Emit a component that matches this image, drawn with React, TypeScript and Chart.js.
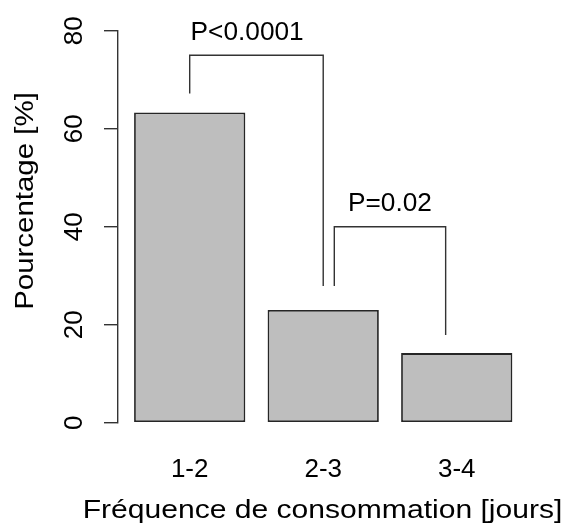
import React, { useEffect, useRef } from "react";
import { Chart, registerables } from "chart.js";

Chart.register(...registerables);

// ---- data ----
const categories = ["1-2", "2-3", "3-4"];
const percentages = [63.3, 23.0, 14.2];
const yTickValues = [0, 20, 40, 60, 80];
const yTitle = "Pourcentage [%]";
const xTitle = "Fréquence de consommation [jours]";

// significance brackets (x in category index units, y in %)
const bracketStart = [0, 1.083];
const bracketEnd = [1, 1.917];
const bracketLevel = [75, 40];
const bracketStartFoot = [67.2, 27.9];
const bracketEndFoot = [27.9, 17.9];
const pLabels = ["P<0.0001", "P=0.02"];
const pLabelX = [0.43, 1.5];
const pLabelY = [80, 45];

const FONT = "'Liberation Sans', Arial, sans-serif";
const INK = "#333333";

function drawText(
  ctx: CanvasRenderingContext2D,
  text: string,
  x: number,
  y: number,
  size: number,
  stretch: number,
  rotate: boolean
) {
  ctx.save();
  ctx.translate(x, y);
  if (rotate) ctx.rotate(-Math.PI / 2);
  ctx.scale(stretch, 1);
  ctx.font = `${size}px ${FONT}`;
  ctx.textAlign = "center";
  ctx.textBaseline = "alphabetic";
  ctx.fillStyle = "#000";
  ctx.fillText(text, 0, 0);
  ctx.restore();
}

const annotatePlugin = {
  id: "annotate",
  afterDraw(chart: any) {
    const ctx: CanvasRenderingContext2D = chart.ctx;
    const xs = chart.scales.x;
    const ys = chart.scales.y;
    const area = chart.chartArea;

    // brackets
    ctx.save();
    ctx.strokeStyle = INK;
    ctx.lineWidth = 1.4;
    ctx.lineCap = "butt";
    ctx.lineJoin = "miter";
    for (let k = 0; k < bracketStart.length; k++) {
      const x1 = xs.getPixelForValue(bracketStart[k]);
      const x2 = xs.getPixelForValue(bracketEnd[k]);
      const yl = ys.getPixelForValue(bracketLevel[k]);
      ctx.beginPath();
      ctx.moveTo(x1, ys.getPixelForValue(bracketStartFoot[k]));
      ctx.lineTo(x1, yl);
      ctx.lineTo(x2, yl);
      ctx.lineTo(x2, ys.getPixelForValue(bracketEndFoot[k]));
      ctx.stroke();
    }
    ctx.restore();

    // p-value labels
    const pSize = 25;
    for (let k = 0; k < pLabels.length; k++) {
      drawText(
        ctx,
        pLabels[k],
        xs.getPixelForValue(pLabelX[k]),
        ys.getPixelForValue(pLabelY[k]) + 0.358 * pSize,
        pSize,
        1.05,
        false
      );
    }

    // y tick labels (rotated)
    ys.ticks.forEach((t: any) => {
      drawText(ctx, String(t.value), area.left - 36.3, ys.getPixelForValue(t.value), 26, 1, true);
    });

    // x category labels
    categories.forEach((c, i) => {
      drawText(ctx, c, xs.getPixelForValue(i), area.bottom + 54, 26, 1, false);
    });

    // axis titles
    drawText(ctx, xTitle, area.left + 204.5, area.bottom + 95.6, 25.6, 1.175, false);
    drawText(ctx, yTitle, area.left - 84.7, (area.top + area.bottom) / 2 - 25.7, 25.6, 1.15, true);
  },
};

export default function App() {
  const ref = useRef<HTMLCanvasElement | null>(null);

  useEffect(() => {
    if (!ref.current) return;
    const chart = new Chart(ref.current, {
      type: "bar",
      data: {
        datasets: [
          {
            label: "Pourcentage",
            data: percentages.map((v, i) => ({ x: i, y: v })),
            backgroundColor: "#BEBEBE",
            borderColor: "#262626",
            borderWidth: 1.8,
            borderSkipped: false,
            barPercentage: 1 / 1.2,
            categoryPercentage: 1,
          },
        ],
      },
      options: {
        responsive: false,
        animation: false,
        devicePixelRatio: 1,
        layout: { padding: { left: 104, right: 16.4, top: 30.7, bottom: 102.3 } },
        plugins: {
          legend: { display: false },
          tooltip: { enabled: false },
        },
        scales: {
          x: {
            type: "linear",
            display: false,
            offset: false,
            min: -0.537,
            max: 2.703,
            afterBuildTicks: (scale: any) => {
              scale.ticks = categories.map((_, i) => ({ value: i }));
            },
          },
          y: {
            type: "linear",
            min: yTickValues[0],
            max: yTickValues[yTickValues.length - 1],
            afterBuildTicks: (scale: any) => {
              scale.ticks = yTickValues.map((v) => ({ value: v }));
            },
            ticks: { display: false },
            grid: {
              display: true,
              drawOnChartArea: false,
              drawTicks: true,
              tickLength: 14,
              color: INK,
              lineWidth: 1.4,
            },
            border: { display: true, color: INK, width: 1.4 },
          },
        },
      },
      plugins: [annotatePlugin],
    });
    return () => chart.destroy();
  }, []);

  return (
    <div style={{ position: "absolute", left: 0, top: 0, width: 567, height: 525, background: "#fff" }}>
      <canvas ref={ref} width={567} height={525} style={{ display: "block", width: 567, height: 525 }} />
    </div>
  );
}
